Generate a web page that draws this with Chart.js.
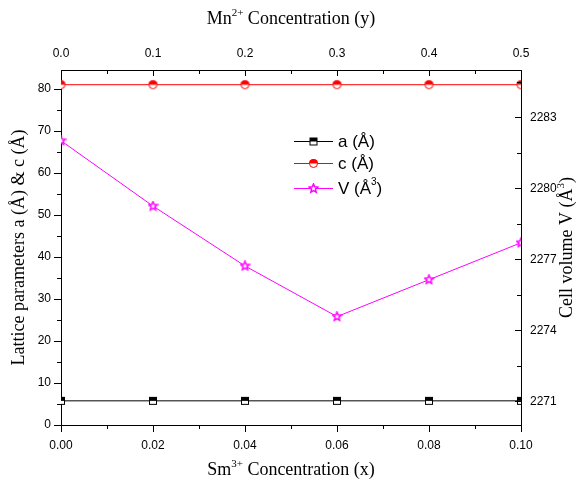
<!DOCTYPE html>
<html>
<head>
<meta charset="utf-8">
<script src="https://cdn.jsdelivr.net/npm/chart.js@4.4.1/dist/chart.umd.min.js"></script>
<style>
  body { margin: 0; background: #fff; }
  #wrap { width: 576px; height: 484px; }
</style>
</head>
<body>
<div id="wrap"><canvas id="latticeChart"></canvas></div>
<script>
// doping levels: Sm3+ on the bottom axis, Mn2+ on the top axis
const smConc = [0, 0.02, 0.04, 0.06, 0.08, 0.10];
const smTicks = [0, 0.02, 0.04, 0.06, 0.08, 0.10];
const mnTicks = [0, 0.1, 0.2, 0.3, 0.4, 0.5];

// lattice parameters (Å) and cell volume (Å^3)
const aParam = [5.75, 5.75, 5.75, 5.75, 5.75, 5.75];
const cParam = [81.0, 81.0, 81.0, 81.0, 81.0, 81.0];
const cellVol = [2282.01, 2279.25, 2276.72, 2274.58, 2276.14, 2277.70];

const latticeTicks = [0, 10, 20, 30, 40, 50, 60, 70, 80];
const volTicks = [2271, 2274, 2277, 2280, 2283];

const seriesNames = ['a (Å)', 'c (Å)', 'V (Å', '3', ')'];

const MAGENTA = '#ff00ff';
const tickFont = { family: 'Liberation Sans', size: 12 };
const titleFont = '18px "Liberation Serif"';
const titleSupFont = '11px "Liberation Serif"';

// marker images ------------------------------------------------------
function halfSquare(size, color) {
  const c = document.createElement('canvas');
  c.width = c.height = size + 2;
  const g = c.getContext('2d');
  g.fillStyle = '#fff';
  g.fillRect(1, 1, size, size);
  g.fillStyle = color;
  g.fillRect(1, 1, size, size / 2);
  g.strokeStyle = color;
  g.lineWidth = 1;
  g.strokeRect(1.5, 1.5, size - 1, size - 1);
  return c;
}

function halfCircle(size, color) {
  const c = document.createElement('canvas');
  c.width = c.height = size + 2;
  const g = c.getContext('2d');
  const r = size / 2, m = c.width / 2;
  g.fillStyle = '#fff';
  g.beginPath(); g.arc(m, m, r, 0, Math.PI * 2); g.fill();
  g.fillStyle = color;
  g.beginPath(); g.arc(m, m, r, Math.PI, Math.PI * 2); g.closePath(); g.fill();
  g.strokeStyle = color;
  g.lineWidth = 1;
  g.beginPath(); g.arc(m, m, r - 0.5, 0, Math.PI * 2); g.stroke();
  return c;
}

function starMark(size, color) {
  const c = document.createElement('canvas');
  c.width = c.height = size + 2;
  const g = c.getContext('2d');
  const m = c.width / 2, ro = size / 2, ri = ro * 0.45;
  g.beginPath();
  for (let i = 0; i < 10; i++) {
    const r = i % 2 ? ri : ro;
    const a = -Math.PI / 2 + i * Math.PI / 5;
    g.lineTo(m + r * Math.cos(a), m + r * Math.sin(a));
  }
  g.closePath();
  g.fillStyle = '#fff';
  g.fill();
  g.strokeStyle = color;
  g.lineWidth = 1.5;
  g.stroke();
  return c;
}

const markA = halfSquare(8, '#000');
const markC = halfCircle(9, '#ff0000');
const markV = starMark(9, MAGENTA);

// tick marks: bottom/left point outward, top/right point inward
function minorValues(scale, majors) {
  const step = majors[1] - majors[0];
  const out = [];
  for (let v = majors[0] - step / 2; v <= scale.max + 1e-9; v += step) {
    if (v >= scale.min - 1e-9) out.push(v);
  }
  return out;
}

const tickMarks = {
  id: 'tickMarks',
  afterDraw(chart) {
    const ctx = chart.ctx;
    const { x, x2, y, y2 } = chart.scales;
    const area = chart.chartArea;
    ctx.save();
    ctx.strokeStyle = '#000';
    ctx.lineWidth = 1;
    const seg = (a, b, c, d) => { ctx.beginPath(); ctx.moveTo(a, b); ctx.lineTo(c, d); ctx.stroke(); };
    const p = v => Math.round(v) + 0.5;

    smTicks.forEach(v => { const px = p(x.getPixelForValue(v)); seg(px, area.bottom, px, area.bottom + 7); });
    minorValues(x, smTicks).forEach(v => { const px = p(x.getPixelForValue(v)); seg(px, area.bottom, px, area.bottom + 4); });

    mnTicks.forEach(v => { const px = p(x2.getPixelForValue(v)); seg(px, area.top, px, area.top + 6); });
    minorValues(x2, mnTicks).forEach(v => { const px = p(x2.getPixelForValue(v)); seg(px, area.top, px, area.top + 4); });

    latticeTicks.forEach(v => { const py = p(y.getPixelForValue(v)); seg(area.left, py, area.left - 7, py); });
    minorValues(y, latticeTicks).forEach(v => { const py = p(y.getPixelForValue(v)); seg(area.left, py, area.left - 4, py); });

    volTicks.forEach(v => { const py = p(y2.getPixelForValue(v)); seg(area.right, py, area.right - 6, py); });
    minorValues(y2, volTicks).forEach(v => { const py = p(y2.getPixelForValue(v)); seg(area.right, py, area.right - 4, py); });
    ctx.restore();
  }
};

// axis titles with superscripts
function richText(ctx, parts, cx, cy, rotate) {
  ctx.save();
  ctx.translate(cx, cy);
  if (rotate) ctx.rotate(-Math.PI / 2);
  ctx.textBaseline = 'middle';
  ctx.fillStyle = '#000';
  let w = 0;
  parts.forEach(pt => { ctx.font = pt.sup ? titleSupFont : titleFont; w += ctx.measureText(pt.t).width; });
  let pos = -w / 2;
  parts.forEach(pt => {
    ctx.font = pt.sup ? titleSupFont : titleFont;
    ctx.fillText(pt.t, pos, pt.sup ? -6 : 0);
    pos += ctx.measureText(pt.t).width;
  });
  ctx.restore();
}

const axisTitles = {
  id: 'axisTitles',
  afterDraw(chart) {
    const ctx = chart.ctx;
    const area = chart.chartArea;
    const midX = (area.left + area.right) / 2;
    const midY = (area.top + area.bottom) / 2;
    richText(ctx, [{ t: 'Mn' }, { t: '2+', sup: true }, { t: ' Concentration (y)' }], midX, 19, false);
    richText(ctx, [{ t: 'Sm' }, { t: '3+', sup: true }, { t: ' Concentration (x)' }], midX, 470, false);
    richText(ctx, [{ t: 'Lattice parameters a (Å) & c (Å)' }], 19, midY, true);
    richText(ctx, [{ t: 'Cell volume V (Å' }, { t: '3', sup: true }, { t: ')' }], 567, midY, true);
  }
};

// legend inside the plot
const insideLegend = {
  id: 'insideLegend',
  afterDraw(chart) {
    const ctx = chart.ctx;
    const rows = [
      { y: 141, color: '#000', mark: markA, parts: [{ t: seriesNames[0] }] },
      { y: 163, color: '#ff0000', mark: markC, parts: [{ t: seriesNames[1] }] },
      { y: 188, color: MAGENTA, mark: markV, parts: [{ t: seriesNames[2] }, { t: seriesNames[3], sup: true }, { t: seriesNames[4] }] }
    ];
    ctx.save();
    rows.forEach(r => {
      ctx.strokeStyle = r.color;
      ctx.lineWidth = 1;
      ctx.beginPath();
      ctx.moveTo(294, r.y + 0.5);
      ctx.lineTo(333, r.y + 0.5);
      ctx.stroke();
      ctx.drawImage(r.mark, 313 - r.mark.width / 2 + 0.5, r.y - r.mark.height / 2 + 0.5);
      ctx.fillStyle = '#000';
      ctx.textBaseline = 'middle';
      let pos = 338;
      r.parts.forEach(pt => {
        ctx.font = pt.sup ? '10px "Liberation Sans"' : '17px "Liberation Sans"';
        ctx.fillText(pt.t, pos, pt.sup ? r.y - 6 : r.y + 1);
        pos += ctx.measureText(pt.t).width;
      });
    });
    ctx.restore();
  }
};

const pts = vals => smConc.map((v, i) => ({ x: v, y: vals[i] }));
const setTicks = arr => scale => { scale.ticks = arr.map(v => ({ value: v })); };

const ctx = document.getElementById('latticeChart').getContext('2d');
new Chart(ctx, {
  type: 'line',
  data: {
    datasets: [
      {
        label: 'a',
        data: pts(aParam),
        borderColor: '#000',
        borderWidth: 1,
        pointStyle: markA,
        xAxisID: 'x', yAxisID: 'y',
        tension: 0
      },
      {
        label: 'c',
        data: pts(cParam),
        borderColor: '#ff0000',
        borderWidth: 1,
        pointStyle: markC,
        xAxisID: 'x', yAxisID: 'y',
        tension: 0
      },
      {
        label: 'V',
        data: pts(cellVol),
        borderColor: MAGENTA,
        borderWidth: 1,
        pointStyle: markV,
        xAxisID: 'x', yAxisID: 'y2',
        tension: 0
      }
    ]
  },
  options: {
    responsive: true,
    maintainAspectRatio: false,
    animation: false,
    layout: { padding: 0 },
    plugins: { legend: { display: false }, tooltip: { enabled: false } },
    scales: {
      x: {
        type: 'linear', position: 'bottom', min: 0, max: 0.1,
        afterBuildTicks: setTicks(smTicks),
        afterFit: s => { s.height = 59; },
        grid: { display: false, drawTicks: false },
        border: { display: true, color: '#000', width: 1 },
        ticks: { color: '#000', font: tickFont, padding: 13, maxRotation: 0, callback: v => v.toFixed(2) }
      },
      x2: {
        type: 'linear', position: 'top', min: 0, max: 0.5,
        afterBuildTicks: setTicks(mnTicks),
        afterFit: s => { s.height = 70; },
        grid: { display: false, drawTicks: false },
        border: { display: true, color: '#000', width: 1 },
        ticks: { color: '#000', font: tickFont, padding: 9, maxRotation: 0, callback: v => v.toFixed(1) }
      },
      y: {
        type: 'linear', position: 'left', min: 0, max: 84.5,
        afterBuildTicks: setTicks(latticeTicks),
        afterFit: s => { s.width = 61; },
        grid: { display: false, drawTicks: false },
        border: { display: true, color: '#000', width: 1 },
        ticks: { color: '#000', font: tickFont, padding: 10, callback: v => String(v) }
      },
      y2: {
        type: 'linear', position: 'right', min: 2270, max: 2285,
        afterBuildTicks: setTicks(volTicks),
        afterFit: s => { s.width = 55; },
        grid: { display: false, drawTicks: false },
        border: { display: true, color: '#000', width: 1 },
        ticks: { color: '#000', font: tickFont, padding: 9, callback: v => String(v) }
      }
    }
  },
  plugins: [tickMarks, axisTitles, insideLegend]
});
</script>
</body>
</html>
